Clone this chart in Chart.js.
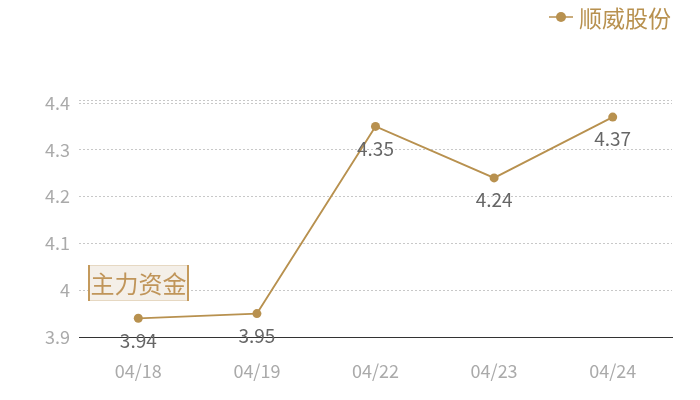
<!DOCTYPE html>
<html>
<head>
<meta charset="utf-8">
<script src="https://cdn.jsdelivr.net/npm/chart.js@4/dist/chart.umd.min.js"></script>
<style>
  html, body { margin: 0; padding: 0; background: #fff; }
  #wrap { width: 700px; height: 400px; position: relative; }
</style>
</head>
<body>
<div id="wrap"><canvas id="c" width="700" height="400"></canvas></div>
<script>
const categories = ['04/18', '04/19', '04/22', '04/23', '04/24'];
const seriesName = '顺威股份';
const prices = [3.94, 3.95, 4.35, 4.24, 4.37];
const yTicks = [3.9, 4.0, 4.1, 4.2, 4.3, 4.4];
const yMin = 3.9;
const yMax = 4.4065;
const badgeText = '主力资金';

const FONT = '"Noto Sans CJK SC", "Noto Sans", sans-serif';
const GOLD = '#b8914f';

// Value labels under each point, the legend at top right and the badge
const overlay = {
  id: 'overlay',
  afterDatasetsDraw(chart) {
    const ctx = chart.ctx;
    const meta = chart.getDatasetMeta(0);
    ctx.save();
    ctx.font = '19px ' + FONT;
    ctx.fillStyle = '#666';
    ctx.textAlign = 'center';
    ctx.textBaseline = 'middle';
    meta.data.forEach((pt, i) => {
      ctx.fillText(prices[i].toFixed(2), pt.x, pt.y + 22);
    });

    // legend
    ctx.strokeStyle = GOLD;
    ctx.lineWidth = 1.5;
    ctx.beginPath();
    ctx.moveTo(549, 17); ctx.lineTo(573, 17);
    ctx.stroke();
    ctx.fillStyle = GOLD;
    ctx.beginPath();
    ctx.arc(561, 17, 5, 0, Math.PI * 2);
    ctx.fill();
    ctx.font = '23px ' + FONT;
    ctx.textAlign = 'left';
    ctx.fillText(seriesName, 579, 18);

    // badge
    const bx = 88, by = 265, bw = 101, bh = 36;
    ctx.fillStyle = '#f4efe8';
    ctx.fillRect(bx, by, bw, bh);
    ctx.strokeStyle = '#e6d8c2';
    ctx.lineWidth = 1;
    ctx.strokeRect(bx + 0.5, by + 0.5, bw - 1, bh - 1);
    ctx.strokeStyle = '#c49a5c';
    ctx.lineWidth = 2;
    ctx.beginPath();
    ctx.moveTo(bx + 1, by); ctx.lineTo(bx + 1, by + bh);
    ctx.moveTo(bx + bw - 1, by); ctx.lineTo(bx + bw - 1, by + bh);
    ctx.stroke();
    ctx.fillStyle = '#c0955a';
    ctx.font = '24px ' + FONT;
    ctx.textAlign = 'center';
    ctx.fillText(badgeText, bx + bw / 2, by + bh / 2 + 1);
    ctx.restore();
  }
};

new Chart(document.getElementById('c'), {
  type: 'line',
  data: {
    labels: categories,
    datasets: [{
      label: seriesName,
      data: prices,
      borderColor: GOLD,
      backgroundColor: GOLD,
      borderWidth: 1.8,
      pointRadius: 4.5,
      pointHoverRadius: 4.5,
      pointBorderWidth: 0,
      tension: 0
    }]
  },
  options: {
    responsive: false,
    animation: false,
    layout: { padding: { top: 100, right: 28, left: 0, bottom: 0 } },
    plugins: { legend: { display: false }, tooltip: { enabled: false } },
    scales: {
      x: {
        type: 'category',
        offset: true,
        grid: { display: false, drawTicks: false },
        border: { display: true, color: '#333', width: 1 },
        ticks: { color: '#aaa', font: { family: FONT, size: 18 }, padding: 23 },
        afterFit(s) { s.height = 63; }
      },
      y: {
        min: yMin,
        max: yMax,
        afterBuildTicks(s) {
          s.ticks = yTicks.map(v => ({ value: v })).concat([{ value: yMax }]);
        },
        grid: { color: '#c8c8c8', lineWidth: 1, drawTicks: false, tickBorderDash: [2, 2] },
        border: { display: false, dash: [2, 2] },
        ticks: {
          color: '#aaa',
          font: { family: FONT, size: 18 },
          padding: 9,
          callback: v => (v > 4.401 ? '' : String(Math.round(v * 10) / 10))
        },
        afterFit(s) { s.width = 79; }
      }
    }
  },
  plugins: [overlay]
});
</script>
</body>
</html>
